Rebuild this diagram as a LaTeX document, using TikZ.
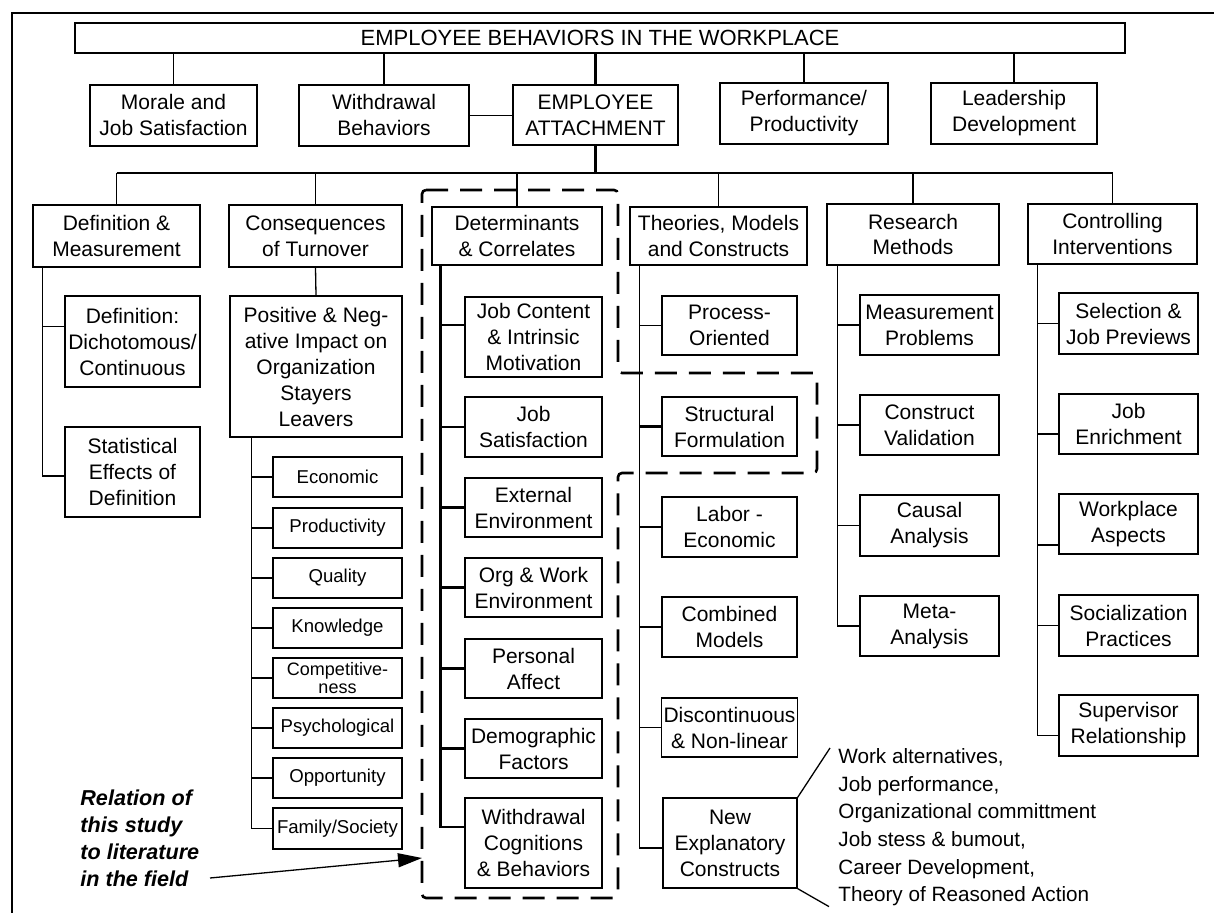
\documentclass[tikz,border=0pt]{standalone}
\usepackage{fontspec}
\setmainfont{Liberation Sans}
\usetikzlibrary{arrows.meta}

% box given by its corners (x1,y1)-(x2,y2) in picture units
\newcommand\boxat[7]{%
  \node[#6, minimum width={0.5pt*(#4-#2)}, minimum height={0.5pt*(#5-#3)}]
    (#1) at ({(#2+#4)/2},{(#3+#5)/2}) {#7};}

\tikzset{
  bx/.style={draw, line width=0.65pt, align=center, inner sep=1pt,
             font=\fontsize{10.5}{13}\selectfont},
  bxb/.style={bx, line width=1.4pt},
  bxs/.style={bx, font=\fontsize{9.3}{11}\selectfont},
  link/.style={line width=0.65pt},
  linkb/.style={line width=1.4pt},
  dashbox/.style={line width=1.3pt, dash pattern=on 11pt off 6pt,
                  rounded corners=2pt},
}

\begin{document}
\begin{tikzpicture}[x=0.5pt, y=-0.5pt]
\useasboundingbox (0,0) rectangle (1214,913);
\fill[white] (0,0) rectangle (1214,913);

% page frame
\draw[link] (12,913) -- (12,13) -- (1214,13);

% top level
\boxat{title}{75}{23}{1125}{53}{bxb, font=\fontsize{11}{13}\selectfont}{EMPLOYEE BEHAVIORS IN THE WORKPLACE}

\boxat{mor}{90}{85}{257}{146}{bx}{Morale and\\Job Satisfaction}
\boxat{wdb}{299}{85}{469}{146}{bx}{Withdrawal\\Behaviors}
\boxat{att}{513}{85}{678}{145}{bxb}{EMPLOYEE\\ATTACHMENT}
\boxat{per}{720}{83}{888}{144}{bx}{Performance/\\Productivity}
\boxat{lead}{931}{83}{1097}{144}{bx}{Leadership\\Development}

\foreach \n in {mor,wdb,per,lead}
  \draw[link] (title.south -| \n.north) -- (\n.north);
\draw[linkb] (title.south -| att.north) -- (att.north);
\draw[link] (wdb.east) -- (wdb.east -| att.west);

% second level
\coordinate (bus) at (0,173);
\boxat{dm}{33}{205}{200}{267}{bx}{Definition \&\\Measurement}
\boxat{ct}{229}{205}{402}{267}{bx}{Consequences\\of Turnover}
\boxat{dc}{432}{207}{602}{265}{bxb}{Determinants\\\& Correlates}
\boxat{tm}{630}{207}{807}{265}{bx}{Theories, Models\\and Constructs}
\boxat{rm}{827}{204}{999}{265}{bx}{Research\\Methods}
\boxat{ci}{1028}{204}{1197}{264}{bx}{Controlling\\Interventions}

\draw[linkb] (att.south) -- (att.south |- bus);
\draw[link] (dm.north |- bus) -- (ci.north |- bus);
\foreach \n in {dm,ct,tm,rm,ci}
  \draw[link] (\n.north |- bus) -- (\n.north);
\draw[linkb] (dc.north |- bus) -- (dc.north);

% definition & measurement
\boxat{dd}{65}{296}{200}{387}{bx}{Definition:\\Dichotomous/\\Continuous}
\boxat{se}{65}{427}{200}{517}{bx}{Statistical\\Effects of\\Definition}
\coordinate (dmt) at ([xshift=5pt]dm.south west);
\draw[link] (dmt) |- ([yshift=-2pt]se.west);
\draw[link] ([yshift=7.5pt]dd.west) -- ([yshift=7.5pt]dd.west -| dmt);

% consequences of turnover
\boxat{pn}{230}{296}{402}{437}{bx}{Positive \& Neg-\\ative Impact on\\Organization\\Stayers\\Leavers}
\draw[link] (ct.south) -- (pn.north);
\boxat{eco}{273}{457}{402}{497}{bxs}{Economic}
\boxat{prod}{273}{508}{402}{548}{bxs}{Productivity}
\boxat{qual}{273}{558}{402}{598}{bxs}{Quality}
\boxat{know}{273}{608}{402}{648}{bxs}{Knowledge}
\boxat{comp}{273}{658}{402}{698}{bx, font=\fontsize{9}{8.6}\selectfont}{Competitive-\\ness}
\boxat{psy}{273}{708}{402}{748}{bxs}{Psychological}
\boxat{opp}{273}{758}{402}{798}{bxs}{Opportunity}
\boxat{fam}{273}{808}{402}{849}{bxs}{Family/Society}
\coordinate (pnt) at ([xshift=11pt]pn.south west);
\draw[link] (pnt) |- (fam.west);
\foreach \n in {eco,prod,qual,know,comp,psy,opp}
  \draw[link] (\n.west) -- (\n.west -| pnt);

% determinants & correlates
\boxat{jc}{465}{297}{602}{377}{bxb}{Job Content\\\& Intrinsic\\Motivation}
\boxat{js}{465}{397}{602}{457}{bxb}{Job\\Satisfaction}
\boxat{ee}{465}{478}{602}{537}{bxb}{External\\Environment}
\boxat{ow}{465}{558}{602}{617}{bxb}{Org \& Work\\Environment}
\boxat{pa}{465}{639}{602}{698}{bxb}{Personal\\Affect}
\boxat{df}{465}{719}{602}{778}{bxb}{Demographic\\Factors}
\boxat{wc}{465}{798}{602}{888}{bxb}{Withdrawal\\Cognitions\\\& Behaviors}
\coordinate (dct) at ([xshift=5pt]dc.south west);
\draw[linkb] (dct) |- ([yshift=8pt]wc.west);
\draw[linkb] ([yshift=6pt]jc.west) -- ([yshift=6pt]jc.west -| dct);
\foreach \n in {js,ee,ow,pa,df}
  \draw[linkb] (\n.west) -- (\n.west -| dct);

% theories, models and constructs
\boxat{po}{662}{296}{797}{355}{bx}{Process-\\Oriented}
\boxat{sf}{662}{397}{797}{456}{bxb}{Structural\\Formulation}
\boxat{le}{662}{497}{797}{557}{bx}{Labor -\\Economic}
\boxat{cm}{662}{597}{797}{657}{bx}{Combined\\Models}
\boxat{dn}{662}{698}{797}{757}{bx}{Discontinuous\\\& Non-linear}
\boxat{ne}{663}{798}{797}{888}{bx}{New\\Explanatory\\Constructs}
\coordinate (tmt) at ([xshift=5pt]tm.south west);
\draw[link] (tmt) |- ([yshift=-2.5pt]ne.west);
\foreach \n in {po,le,cm,dn}
  \draw[link] (\n.west) -- (\n.west -| tmt);
\draw[linkb] (sf.west) -- (sf.west -| tmt);

% research methods
\boxat{mp}{860}{295}{999}{355}{bx}{Measurement\\Problems}
\boxat{cv}{860}{395}{999}{455}{bx}{Construct\\Validation}
\boxat{ca}{860}{495}{999}{556}{bx}{Causal\\Analysis}
\boxat{ma}{860}{596}{999}{656}{bx}{Meta-\\Analysis}
\coordinate (rmt) at ([xshift=5.5pt]rm.south west);
\draw[link] (rmt) |- (ma.west);
\foreach \n in {mp,cv,ca}
  \draw[link] (\n.west) -- (\n.west -| rmt);

% controlling interventions
\boxat{sj}{1059}{293}{1198}{354}{bx}{Selection \&\\Job Previews}
\boxat{je}{1059}{394}{1198}{454}{bx}{Job\\Enrichment}
\boxat{wa}{1059}{494}{1198}{554}{bx}{Workplace\\Aspects}
\boxat{sp}{1059}{595}{1198}{656}{bx}{Socialization\\Practices}
\boxat{sr}{1059}{695}{1198}{756}{bx}{Supervisor\\Relationship}
\coordinate (cit) at ([xshift=5pt]ci.south west);
\draw[link] (cit) |- ([yshift=-5pt]sr.west);
\draw[link] (sj.west) -- (sj.west -| cit);
\draw[link] ([yshift=-5pt]je.west) -- ([yshift=-5pt]je.west -| cit);
\draw[link] ([yshift=-10.5pt]wa.west) -- ([yshift=-10.5pt]wa.west -| cit);
\draw[link] (sp.west) -- (sp.west -| cit);

% explanatory constructs list
\node[anchor=north west, inner sep=0, align=left,
      font=\fontsize{10.35}{13.85}\selectfont] (lst) at (838,748)
  {Work alternatives,\\Job performance,\\Organizational committment\\Job stess \& bumout,\\Career Development,\\Theory of Reasoned Action};
\draw[link] (ne.north east) -- ([xshift=-4pt]lst.north west);
\draw[link] (ne.south east) -- ([xshift=-4.5pt]lst.south west);

% outline of the area covered by this study
\draw[dashbox] (422,190) -- (618,190) -- (618,373) -- (817,373) -- (817,473)
  -- (618,473) -- (618,898) -- (422,898) -- cycle;

% note with arrow
\node[anchor=north west, inner sep=0, align=left,
      font=\fontsize{10.8}{13.5}\selectfont\bfseries\itshape] (rel) at (80,789)
  {Relation of\\this study\\to literature\\in the field};
\coordinate (relS) at (210,878);
\coordinate (relT) at (422,858);
\draw[link, -{Triangle[length=12pt,width=7pt]}] (relS) -- (relT);
\end{tikzpicture}
\end{document}
